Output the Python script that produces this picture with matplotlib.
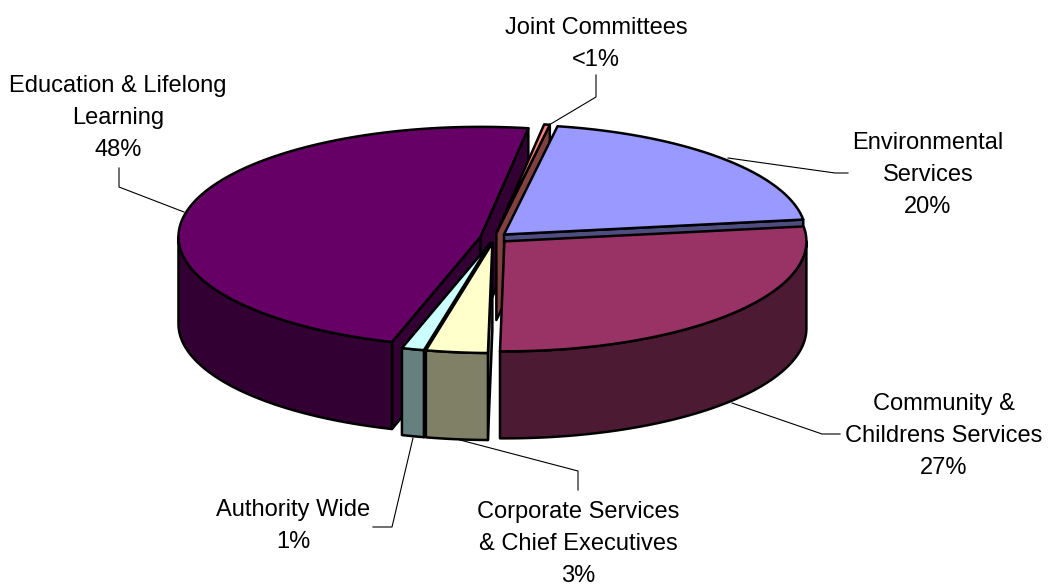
import numpy as np
import matplotlib
matplotlib.use("Agg")
import matplotlib.pyplot as plt
from matplotlib.patches import Polygon

plt.rcParams['font.family'] = ['Liberation Sans', 'DejaVu Sans']

# spending split, in the order the slices run clockwise from the start angle
categories = ["Environmental Services", "Community & Childrens Services",
              "Corporate Services & Chief Executives", "Authority Wide",
              "Education & Lifelong Learning", "Joint Committees"]
shares = [20.0, 27.4, 3.3, 1.2, 47.8, 0.3]
top_colors = ["#9999FF", "#993366", "#FFFFCC", "#CCFFFF", "#660066", "#FF8080"]
side_colors = ["#4D4D80", "#4D1A33", "#808066", "#668080", "#330033", "#804040"]
draw_order = [4, 5, 0, 1, 3, 2]

# label text, centre x, centre y of each line block
label_text = ["Environmental\nServices\n20%", "Community &\nChildrens Services\n27%",
              "Corporate Services\n& Chief Executives\n3%", "Authority Wide\n1%",
              "Education & Lifelong\nLearning\n48%", "Joint Committees\n<1%"]
label_x = [928, 944, 578, 293, 118, 596]
label_y = [175, 436, 544, 526, 118, 44]

# leader lines
leaders = [
    ([848, 835, 728], [173, 173, 158]),
    ([840, 822, 732], [434, 434, 403]),
    ([578, 578, 460], [490, 471, 440]),
    ([373, 392, 413], [527, 527, 438]),
    ([119, 119, 184], [168, 187, 212]),
    ([596, 596, 549], [75, 97, 125]),
]

cx, cy = 494, 238
rx, ry = 302, 110
depth = 87
explode = 0.046
start_angle = 10.2


def arc(a0, a1, ox, oy):
    a = np.radians(np.linspace(a0, a1, 120))
    return ox + rx * np.sin(a), oy - ry * np.cos(a)


def draw_slice(a0, a1, top, side, zorder):
    mid = np.radians((a0 + a1) / 2)
    ox = cx + explode * rx * np.sin(mid)
    oy = cy - explode * ry * np.cos(mid)
    x, y = arc(a0, a1, ox, oy)
    lw = 1.8

    # cut faces, the one turned towards the viewer only
    for ang, xe, ye in [(a0 - 90, x[0], y[0]), (a1 + 90, x[-1], y[-1])]:
        if np.cos(np.radians(ang)) < 0:
            pts = [(ox, oy), (xe, ye), (xe, ye + depth), (ox, oy + depth)]
            ax.add_patch(Polygon(pts, fc=side, ec="black", lw=lw, zorder=zorder, joinstyle="round"))

    # outer wall on the front half
    lo = max(a0, 90)
    hi = min(a1, 270)
    if lo < hi:
        xs, ys = arc(lo, hi, ox, oy)
        pts = np.r_[np.c_[xs, ys], np.c_[xs[::-1], ys[::-1] + depth]]
        ax.add_patch(Polygon(pts, fc=side, ec="black", lw=lw, zorder=zorder, joinstyle="round"))

    pts = np.r_[[[ox, oy]], np.c_[x, y]]
    ax.add_patch(Polygon(pts, fc=top, ec="black", lw=lw, zorder=zorder, joinstyle="round"))


fig = plt.figure(figsize=(10.5, 5.86), dpi=100)
ax = fig.add_axes([0, 0, 1, 1])
ax.set_xlim(0, 1050)
ax.set_ylim(586, 0)
ax.axis("off")

spans = np.array(shares) / sum(shares) * 360
edges = start_angle + np.r_[0, np.cumsum(spans)]
for z, i in enumerate(draw_order):
    draw_slice(edges[i], edges[i + 1], top_colors[i], side_colors[i], 2 + z)

for lx, ly in leaders:
    ax.plot(lx, ly, color="black", lw=0.8, zorder=1)

for t, x, y in zip(label_text, label_x, label_y):
    ax.text(x, y, t, ha="center", va="center", fontsize=17, linespacing=1.6, color="black")

fig.savefig("out.png", dpi=100)
